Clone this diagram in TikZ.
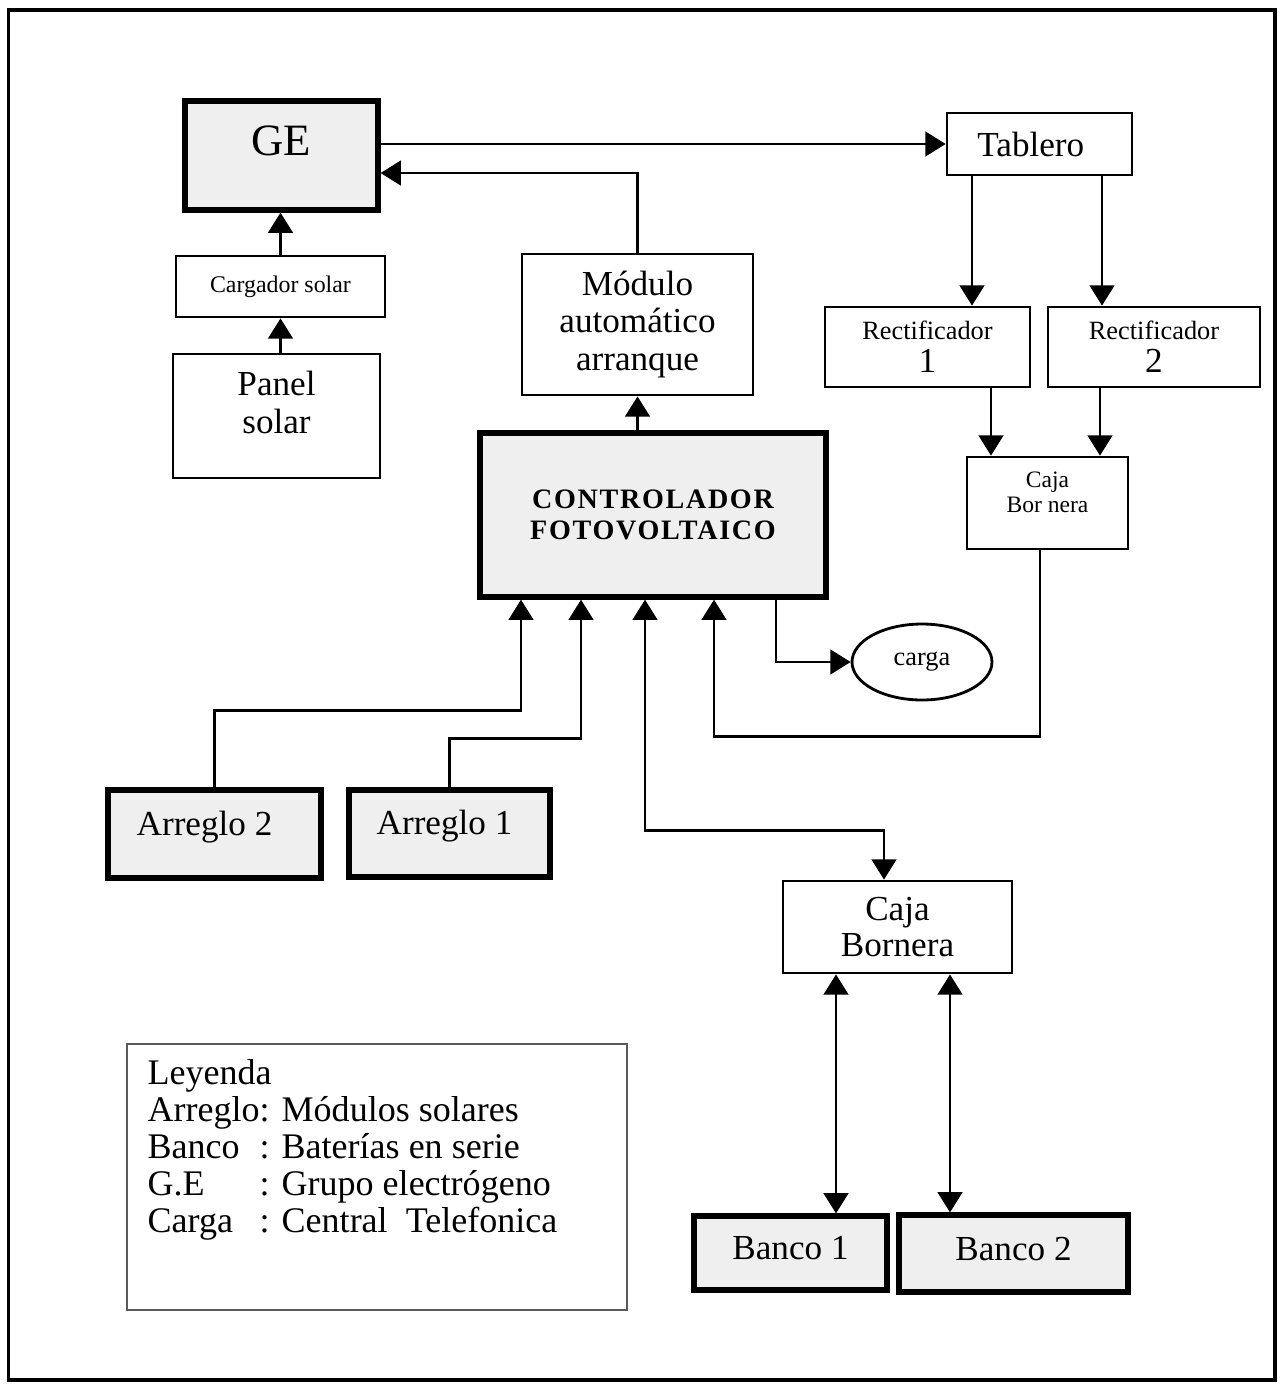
\documentclass[tikz,border=0pt]{standalone}
\usepackage{fontspec}
\setmainfont{Liberation Serif}
\usetikzlibrary{arrows.meta,calc,positioning,shapes.geometric}
\definecolor{boxgray}{RGB}{239,239,239}
\definecolor{framegray}{RGB}{90,90,90}

\begin{document}
\begin{tikzpicture}[x=0.02cm,y=-0.02cm,>={Triangle[length=11.5pt,width=14pt]},
  conn/.style={line width=1.4pt},
  thinbox/.style={draw,line width=1.6pt,inner sep=0pt,align=center},
  thickbox/.style={draw,line width=3pt,fill=boxgray,inner sep=0pt,align=center},
  bigtext/.style={font=\fontsize{20}{21.5}\selectfont}]
  \useasboundingbox (0,0) rectangle (1281,1384);
  \draw[line width=2.2pt] (8.5,10) rectangle (1275,1380);

  \node[thickbox,minimum width=3.86cm,minimum height=2.18cm,font=\fontsize{25.5}{28}\selectfont,text depth=0.6cm] (ge) at (281.5,155.5) {GE};
  \node[thinbox,minimum width=4.18cm,minimum height=1.22cm,font=\fontsize{13.6}{15}\selectfont] (cargador) at (280.5,286.5) {Cargador solar};
  \node[thinbox,bigtext,minimum width=4.14cm,minimum height=2.48cm,text depth=0.54cm] (panel) at (276.5,416) {Panel\\solar};
  \node[thinbox,bigtext,minimum width=4.62cm,minimum height=2.82cm] (modulo) at (637.5,324.5) {Módulo\\automático\\arranque};
  \node[thickbox,minimum width=6.92cm,minimum height=3.28cm,font=\fontsize{16}{18}\selectfont\bfseries\addfontfeature{LetterSpace=6}] (ctrl) at (653,515) {CONTROLADOR\\FOTOVOLTAICO};
  \node[thinbox,bigtext,minimum width=3.70cm,minimum height=1.24cm] (tab) at (1039.5,144) {Tablero\hspace{0.35cm}};
  \node[thinbox,minimum width=4.10cm,minimum height=1.60cm,font=\fontsize{15}{18.7}\selectfont] (rect1) at (927.5,347) {Rectificador\hspace{0.45cm}\\{\fontsize{20}{18.7}\selectfont 1}\hspace{0.55cm}};
  \node[thinbox,minimum width=4.24cm,minimum height=1.60cm,font=\fontsize{15}{18.7}\selectfont] (rect2) at (1154,347) {Rectificador\hspace{0.55cm}\\{\fontsize{20}{18.7}\selectfont 2}};
  \node[thinbox,minimum width=3.22cm,minimum height=1.84cm,font=\fontsize{13.4}{14.5}\selectfont,text depth=0.44cm] (cajab1) at (1047.5,503) {Caja\\Bor nera};
  \node[draw,ellipse,line width=1.6pt,inner sep=0pt,minimum width=2.80cm,minimum height=1.52cm,font=\fontsize{15}{17}\selectfont] (carga) at (922,662) {carga};
  \node[thickbox,bigtext,minimum width=4.26cm,minimum height=1.76cm,text depth=0.43cm] (arr2) at (214.5,834) {Arreglo 2\hspace{0.4cm}};
  \node[thickbox,bigtext,minimum width=4.02cm,minimum height=1.74cm,text depth=0.43cm] (arr1) at (449.5,833.5) {Arreglo 1\hspace{0.2cm}};
  \node[thinbox,minimum width=4.58cm,minimum height=1.84cm,font=\fontsize{20}{20.4}\selectfont] (cajab2) at (897.5,927) {Caja\\Bornera};
  \node[thickbox,bigtext,minimum width=3.86cm,minimum height=1.48cm,text depth=0.2cm] (banco1) at (790.5,1253) {Banco 1};
  \node[thickbox,bigtext,minimum width=4.58cm,minimum height=1.54cm,text depth=0.2cm] (banco2) at (1013.5,1253.5) {Banco 2};
  \node[draw=framegray,line width=0.8pt,minimum width=10cm,minimum height=5.32cm] (leyenda) at (377,1177) {};
  \node[anchor=north west,inner sep=0pt,font=\fontsize{20.5}{21}\selectfont] (leytxt) at ($(leyenda.north west)+(21,15)$)
    {\begin{tabular}{@{}l@{}l@{}}
      \multicolumn{2}{@{}l@{}}{Leyenda}\\
      Arreglo&: Módulos solares\\
      Banco&: Baterías en serie\\
      G.E&: Grupo electrógeno\\
      Carga&: Central\ \ Telefonica
    \end{tabular}};

  \coordinate (t1) at ($(tab.south)+(-67.5,0)$);
  \coordinate (t2) at ($(tab.south)+(62.5,0)$);
  \coordinate (r1) at ($(rect1.south)+(63.5,0)$);
  \coordinate (r2) at ($(rect2.south)+(-54,0)$);
  \coordinate (c1) at ($(cajab2.south)+(-61.5,0)$);
  \coordinate (c2) at ($(cajab2.south)+(52.5,0)$);

  \draw[conn,->] (ge.east |- tab.west) -- (tab.west);
  \draw[conn,->] (modulo.north) |- ($(ge.east)+(0,17.5)$);
  \draw[conn,->] (cargador.north) -- (cargador.north |- ge.south);
  \draw[conn,->] (panel.north -| cargador.south) -- (cargador.south);
  \draw[conn,->] (ctrl.north -| modulo.south) -- (modulo.south);
  \draw[conn,->] (t1) -- (t1 |- rect1.north);
  \draw[conn,->] (t2) -- (t2 |- rect2.north);
  \draw[conn,->] (r1) -- (r1 |- cajab1.north);
  \draw[conn,->] (r2) -- (r2 |- cajab1.north);
  \draw[conn,->] ($(cajab1.south)+(-7.5,0)$) -- ++(0,186) -| ($(ctrl.south)+(61,0)$);
  \draw[conn,->] ($(ctrl.south)+(123,0)$) |- (carga.west);
  \draw[conn,->] (arr2.north) -- ++(0,-77) -| ($(ctrl.south)+(-132,0)$);
  \draw[conn,->] (arr1.north) -- ++(0,-49) -| ($(ctrl.south)+(-72,0)$);
  \draw[conn,<->] ($(ctrl.south)+(-8,0)$) -- ++(0,231) -| ($(cajab2.north)+(-13.5,0)$);
  \draw[conn,<->] (c1) -- (c1 |- banco1.north);
  \draw[conn,<->] (c2) -- (c2 |- banco2.north);
\end{tikzpicture}
\end{document}
